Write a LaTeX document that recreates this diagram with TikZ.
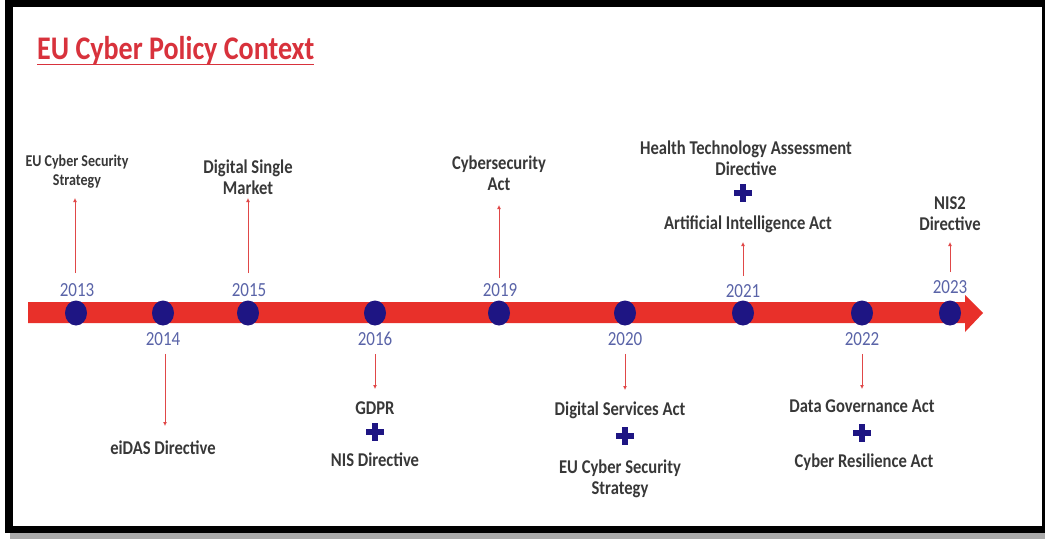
\documentclass[tikz,border=0pt]{standalone}
\usepackage{fontspec}
\setmainfont{Carlito}
\newfontfamily\dinfont{Carlito}[FakeStretch=0.85]
\usetikzlibrary{arrows.meta,shapes.geometric}
\definecolor{bandred}{HTML}{E8302A}
\definecolor{dotblue}{HTML}{1E1583}
\definecolor{yearblue}{HTML}{5A64A8}
\definecolor{txtgray}{HTML}{383838}
\definecolor{titlered}{HTML}{D8323C}
\definecolor{arrred}{HTML}{E04848}
\definecolor{shadowgray}{HTML}{AAAAAA}
\begin{document}
\begin{tikzpicture}[x=1pt,y=-1pt,
  yearlab/.style={font=\dinfont\fontsize{20}{20}\selectfont, text=yearblue, inner sep=0pt},
  evt/.style={font=\dinfont\bfseries\fontsize{19.5}{21}\selectfont, text=txtgray, align=center, inner sep=0pt},
  evtsmall/.style={font=\dinfont\bfseries\fontsize{16.5}{19}\selectfont, text=txtgray, align=center, inner sep=0pt},
  tldot/.style={ellipse, fill=dotblue, minimum width=22pt, minimum height=25pt, inner sep=0pt},
  plusmark/.style={minimum size=19pt, inner sep=0pt,
    path picture={
      \fill[dotblue] ([shift={(-9pt,-3pt)}]path picture bounding box.center) rectangle ([shift={(9pt,3pt)}]path picture bounding box.center);
      \fill[dotblue] ([shift={(-3pt,-9pt)}]path picture bounding box.center) rectangle ([shift={(3pt,9pt)}]path picture bounding box.center);
    }},
  evarrow/.style={draw=arrred, line width=0.9pt, -{Latex[length=4pt,width=4pt]}},
]
\useasboundingbox (0,0) rectangle (1045,539);
% frame
\fill[shadowgray] (10,530) rectangle (1045,539);
\fill[black] (5,0) rectangle (1045,533);
\fill[white] (13,7) rectangle (1042,526);

% title
\node[anchor=west, inner sep=0pt, font=\dinfont\bfseries\fontsize{33}{33}\selectfont, text=titlered] (title) at (37,51) {EU Cyber Policy Context};
\draw[titlered, line width=1.2pt] ([yshift=1pt]title.south west) -- ([yshift=1pt]title.south east);

% band
\fill[bandred] (28,302) -- (965,302) -- (965,295) -- (983,313) -- (965,332) -- (965,323) -- (28,323) -- cycle;

% dots
\node[tldot] (d13) at (76,313) {};
\node[tldot] (d14) at (163,313) {};
\node[tldot] (d15) at (248,313) {};
\node[tldot] (d16) at (375,313) {};
\node[tldot] (d19) at (499,313) {};
\node[tldot] (d20) at (625,313) {};
\node[tldot] (d21) at (743,313) {};
\node[tldot] (d22) at (862,313) {};
\node[tldot] (d23) at (950,313) {};

% years
\node[yearlab] (y13) at (77,290) {2013};
\node[yearlab] (y14) at (163,339) {2014};
\node[yearlab] (y15) at (249,290) {2015};
\node[yearlab] (y16) at (375,339) {2016};
\node[yearlab] (y19) at (500,290) {2019};
\node[yearlab] (y20) at (625,339) {2020};
\node[yearlab] (y21) at (743,291) {2021};
\node[yearlab] (y22) at (862,339) {2022};
\node[yearlab] (y23) at (950,287) {2023};

% events above
\node[evtsmall] (e13) at (77,172) {EU Cyber Security\\Strategy};
\node[evt] (e15) at (248,177) {Digital Single\\Market};
\node[evt] (e19) at (499,173) {Cybersecurity\\Act};
\node[evt] (e21a) at (746,158) {Health Technology Assessment\\Directive};
\node[plusmark] (p21) at (743,193) {};
\node[evt] (e21b) at (748,224) {Artificial Intelligence Act};
\node[evt] (e23) at (950,214) {NIS2\\Directive};

% events below
\node[evt] (e14) at (163,448) {eiDAS Directive};
\node[evt] (e16a) at (375,408) {GDPR};
\node[plusmark] (p16) at (375,432) {};
\node[evt] (e16b) at (375,460) {NIS Directive};
\node[evt] (e20a) at (620,410) {Digital Services Act};
\node[plusmark] (p20) at (625,436) {};
\node[evt] (e20b) at (620,479) {EU Cyber Security\\Strategy};
\node[evt] (e22a) at (862,406) {Data Governance Act};
\node[plusmark] (p22) at (862,433) {};
\node[evt] (e22b) at (864,462) {Cyber Resilience Act};

% connectors
\coordinate (a13) at (75,198);
\coordinate (a15) at (248,198);
\coordinate (a19) at (499,205);
\coordinate (a21) at (743,242);
\coordinate (a23) at (950,242);
\draw[evarrow] (y13.north -| a13) ++(0,-10) -- (a13);
\draw[evarrow] (y15.north -| a15) ++(0,-10) -- (a15);
\draw[evarrow] (y19.north -| a19) ++(0,-5) -- (a19);
\draw[evarrow] (y21.north -| a21) ++(0,-8) -- (a21);
\draw[evarrow] (y23.north -| a23) ++(0,-8) -- (a23);
\coordinate (b14) at (165,426);
\coordinate (b16) at (375,389);
\coordinate (b20) at (625,390);
\coordinate (b22) at (862,389);
\draw[evarrow] (y14.south -| b14) ++(0,8) -- (b14);
\draw[evarrow] (y16.south -| b16) ++(0,8) -- (b16);
\draw[evarrow] (y20.south -| b20) ++(0,8) -- (b20);
\draw[evarrow] (y22.south -| b22) ++(0,8) -- (b22);
\end{tikzpicture}
\end{document}
